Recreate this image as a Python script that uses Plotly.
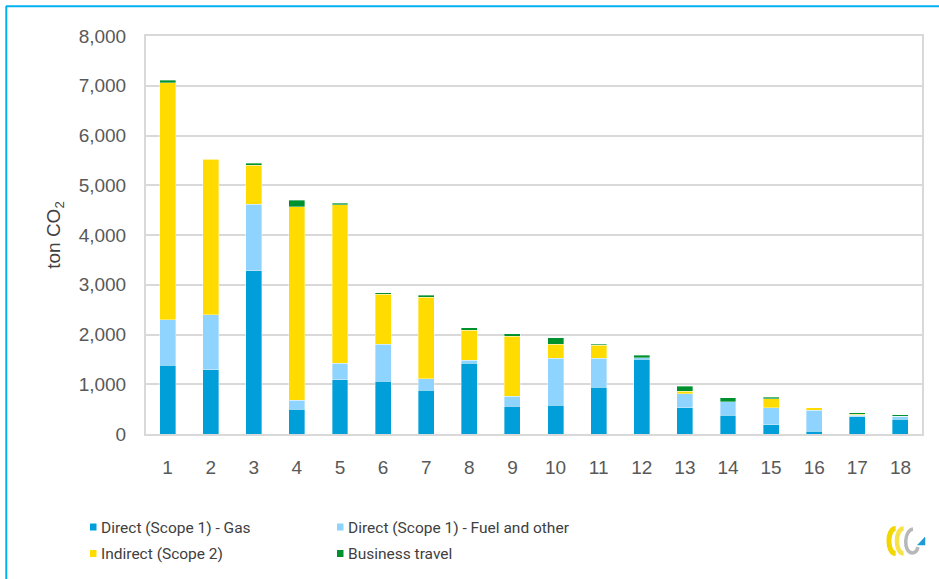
import plotly.graph_objects as go

# Sites 1-18, emissions in ton CO2 by source
sites = [str(i) for i in range(1, 19)]
gas = [1380, 1290, 3280, 500, 1090, 1060, 880, 1425, 555, 575, 935, 1500, 527, 372, 191, 60, 342, 292]
fuel_other = [920, 1110, 1340, 175, 328, 745, 230, 54, 202, 952, 589, 34, 282, 278, 332, 419, 30, 66]
indirect = [4760, 3120, 785, 3890, 3186, 1006, 1642, 603, 1207, 282, 256, 0, 46, 0, 181, 44, 27, 0]
travel = [50, 10, 35, 130, 34, 28, 34, 55, 54, 129, 26, 46, 101, 80, 34, 0, 28, 34]

y_ticks = [0, 1000, 2000, 3000, 4000, 5000, 6000, 7000, 8000]

W, H = 939, 579
L, R, T, B = 146, 17, 36, 145
PW, PH = W - L - R, H - T - B


def px(x):
    return (x - L) / PW


def py(y):
    return (H - B - y) / PH


series = [
    ("Direct (Scope 1) - Gas", gas, "#009FDA"),
    ("Direct (Scope 1) - Fuel and other", fuel_other, "#8FD3FF"),
    ("Indirect (Scope 2)", indirect, "#FFDB00"),
    ("Business travel", travel, "#00912F"),
]

fig = go.Figure()
for name, vals, color in series:
    fig.add_trace(go.Bar(
        x=sites, y=vals, name=name, showlegend=False,
        marker=dict(color=color, line=dict(color="rgba(255,255,255,0.45)", width=0.8)),
    ))

tick_font = dict(family="Liberation Sans, Arial, sans-serif", size=19, color="#595959")
key_font = dict(family="Roboto, Liberation Sans, sans-serif", size=15.5, color="#404040")

fig.update_layout(
    width=W, height=H,
    margin=dict(l=L, r=R, t=T, b=B),
    barmode="stack", bargap=0.63,
    paper_bgcolor="white", plot_bgcolor="white",
    xaxis=dict(
        showgrid=False, showline=True, linecolor="#D9D9D9", linewidth=2, mirror=True,
        tickfont=tick_font, ticks="", ticklabelstandoff=15,
    ),
    yaxis=dict(
        range=[0, 8000], tickvals=y_ticks, tickformat=",d",
        showgrid=True, gridcolor="#D9D9D9", gridwidth=2,
        showline=True, linecolor="#D9D9D9", linewidth=2, mirror=True,
        zeroline=False, tickfont=tick_font, ticks="", ticklabelstandoff=14,
        title=dict(text="ton CO<sub>2</sub>", standoff=13,
                   font=dict(family="Liberation Sans, Arial, sans-serif", size=19, color="#404040")),
    ),
    showlegend=False,
)

# Key below the chart: two columns, two rows (square swatch + label)
key_pos = [(90, 527), (337, 527), (90, 553.5), (337, 553.5)]
for (name, _, color), (kx, ky) in zip(series, key_pos):
    fig.add_shape(type="rect", xref="paper", yref="paper",
                  x0=px(kx), x1=px(kx + 6.5), y0=py(ky - 3.5), y1=py(ky + 3.5),
                  fillcolor=color, line=dict(width=0))
    fig.add_annotation(text=name, xref="paper", yref="paper", x=px(kx + 9), y=py(ky + 0.5),
                       xanchor="left", yanchor="middle", showarrow=False, font=key_font)

# Frame lines along the top and left edges
frame = "#00B0F0"
fig.add_shape(type="line", xref="paper", yref="paper",
              x0=px(6), y0=py(6.3), x1=px(W), y1=py(6.3), line=dict(color=frame, width=2))
fig.add_shape(type="line", xref="paper", yref="paper",
              x0=px(6.3), y0=py(6), x1=px(6.3), y1=py(H), line=dict(color=frame, width=2))


# Small logo: two yellow arcs, a grey arc and a blue triangle
def c_arc(cx, cy, rx, ry):
    k = 1.33
    return (f"M{px(cx + rx * 0.3)},{py(cy - ry)} "
            f"C{px(cx - k * rx)},{py(cy - ry)} {px(cx - k * rx)},{py(cy + ry)} {px(cx + rx * 0.3)},{py(cy + ry)}")


fig.add_shape(type="path", xref="paper", yref="paper", path=c_arc(894, 541, 5.5, 12.5),
              line=dict(color="#F2D600", width=5))
fig.add_shape(type="path", xref="paper", yref="paper", path=c_arc(902, 541, 5.5, 12.5),
              line=dict(color="#F7E24A", width=4.5))
fig.add_shape(type="path", xref="paper", yref="paper",
              path=(f"M{px(913)},{py(529)} C{px(904)},{py(530)} {px(903)},{py(552)} {px(912)},{py(553)} "
                    f"C{px(915)},{py(553)} {px(917)},{py(551)} {px(918)},{py(547)}"),
              line=dict(color="#B8B8B8", width=3.5))
fig.add_shape(type="path", xref="paper", yref="paper",
              path=f"M{px(917.5)},{py(545)} L{px(925)},{py(545)} L{px(925)},{py(537)} Z",
              fillcolor="#1E9BD7", line=dict(color="#1E9BD7", width=0.5))

fig.write_html("out.html")
